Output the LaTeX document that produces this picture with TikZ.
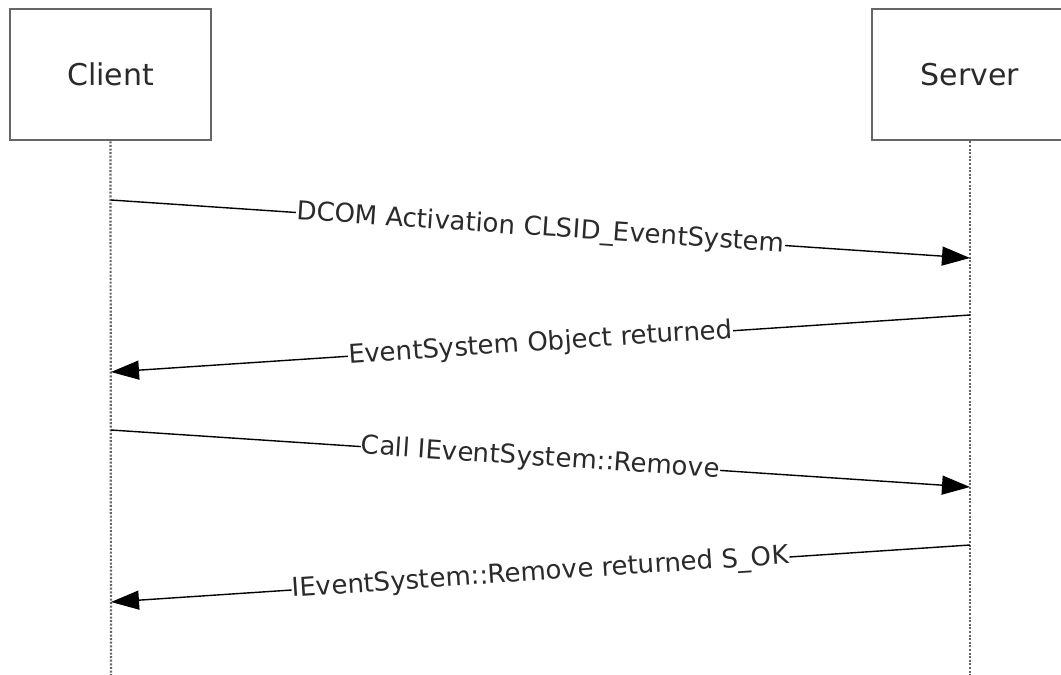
\documentclass[tikz,border=0pt]{standalone}
\usepackage{fontspec}
\setmainfont{DejaVu Sans}
\usetikzlibrary{arrows.meta}
\definecolor{frame}{HTML}{666666}
\definecolor{ink}{HTML}{2A2A2A}

\begin{document}
\begin{tikzpicture}[x=1pt,y=-1pt,>={Triangle[length=28pt,width=19pt]},
  actor/.style={draw=frame,line width=2.6pt,minimum width=201pt,minimum height=131pt,
    font=\fontsize{30}{36}\selectfont,text=ink},
  life/.style={frame,line width=2.2pt,dash pattern=on 2pt off 1.6pt},
  msg/.style={->,line width=1.4pt,black},
  lbl/.style={sloped,fill=white,inner sep=0.5pt,font=\fontsize{26}{30}\selectfont,text=ink}]
  \useasboundingbox (0,0) rectangle (1061,675);
  \def\xc{111}\def\xs{970}
  \node[actor] (client) at (110.5,74.5) {Client};
  \node[actor,minimum width=210pt] (server) at (977,74.5) {};
  \node[font=\fontsize{30}{36}\selectfont,text=ink] (servername) at (\xs,74.5) {Server};
  \coordinate (cend) at (\xc,675); \coordinate (send) at (\xs,675);
  \draw[life] (client.south) -- (cend);
  \draw[life] (server.south -| send) -- (send);
  % messages
  \coordinate (c1) at (\xc,200); \coordinate (s1) at (\xs,258);
  \coordinate (s2) at (\xs,315); \coordinate (c2) at (\xc,372);
  \coordinate (c3) at (\xc,430); \coordinate (s3) at (\xs,487);
  \coordinate (s4) at (\xs,545); \coordinate (c4) at (\xc,602);
  \draw[msg] (c1) -- node[lbl] {DCOM Activation CLSID\_EventSystem} (s1);
  \draw[msg] (s2) -- node[lbl] {EventSystem Object returned} (c2);
  \draw[msg] (c3) -- node[lbl] {Call IEventSystem::Remove} (s3);
  \draw[msg] (s4) -- node[lbl] {IEventSystem::Remove returned S\_OK} (c4);
\end{tikzpicture}
\end{document}
